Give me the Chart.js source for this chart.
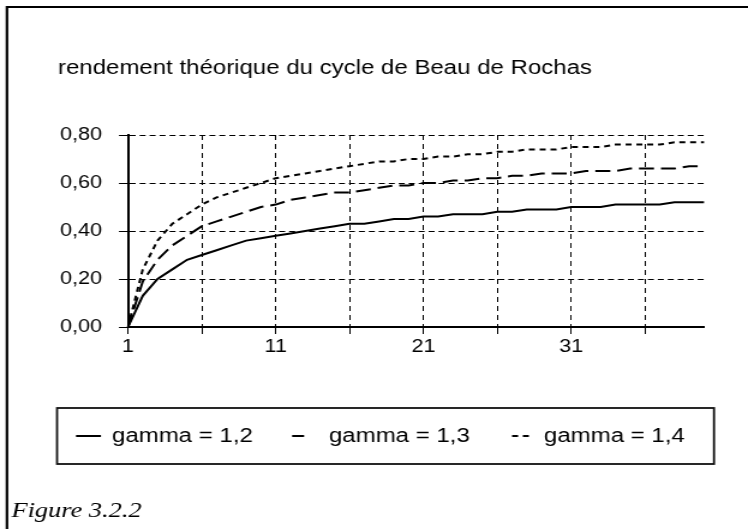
<!DOCTYPE html>
<html>
<head>
<meta charset="utf-8">
<script src="https://cdn.jsdelivr.net/npm/chart.js@4.4.1/dist/chart.umd.min.js"></script>
<style>
  html, body { margin: 0; padding: 0; background: #fff; overflow: hidden; }
  /* la figure d'origine est étirée en largeur : on dessine à 623 px puis on étire à 748 */
  #rendement { display: block; transform: scaleX(1.2006); transform-origin: 0 0; }
</style>
</head>
<body>
<canvas id="rendement" width="623" height="529"></canvas>
<script>
// rapport volumétrique (axe X)
const rapports = [1, 2, 3, 4, 5, 6, 7, 8, 9, 10, 11, 12, 13, 14, 15, 16, 17, 18, 19, 20,
  21, 22, 23, 24, 25, 26, 27, 28, 29, 30, 31, 32, 33, 34, 35, 36, 37, 38, 39, 40];

// rendement
const gamma12 = [0, 0.13, 0.20, 0.24, 0.28, 0.30, 0.32, 0.34, 0.36, 0.37, 0.38, 0.39, 0.40, 0.41,
  0.42, 0.43, 0.43, 0.44, 0.45, 0.45, 0.46, 0.46, 0.47, 0.47, 0.47, 0.48, 0.48, 0.49, 0.49, 0.49,
  0.50, 0.50, 0.50, 0.51, 0.51, 0.51, 0.51, 0.52, 0.52, 0.52];
const gamma13 = [0, 0.19, 0.28, 0.34, 0.38, 0.42, 0.44, 0.46, 0.48, 0.50, 0.51, 0.53, 0.54, 0.55,
  0.56, 0.56, 0.57, 0.58, 0.59, 0.59, 0.60, 0.60, 0.61, 0.61, 0.62, 0.62, 0.63, 0.63, 0.64, 0.64,
  0.64, 0.65, 0.65, 0.65, 0.66, 0.66, 0.66, 0.66, 0.67, 0.67];
const gamma14 = [0, 0.24, 0.36, 0.43, 0.47, 0.51, 0.54, 0.56, 0.58, 0.60, 0.62, 0.63, 0.64, 0.65,
  0.66, 0.67, 0.68, 0.69, 0.69, 0.70, 0.70, 0.71, 0.71, 0.72, 0.72, 0.73, 0.73, 0.74, 0.74, 0.74,
  0.75, 0.75, 0.75, 0.76, 0.76, 0.76, 0.76, 0.77, 0.77, 0.77];

const series = ["gamma = 1,2", "gamma = 1,3", "gamma = 1,4"];
const yTicks = [0, 0.2, 0.4, 0.6, 0.8];

const police = '"Liberation Sans", Arial, sans-serif';
const virgule = v => v.toFixed(2).replace(".", ",");
const tousLes5 = c => (c.index % 5 === 0 ? "#000" : "rgba(0,0,0,0)");

// cadre, boite de legende et legende de figure
const decor = {
  id: "decor",
  afterDraw(chart) {
    const ctx = chart.ctx;
    ctx.save();
    ctx.strokeStyle = "#000";
    ctx.lineWidth = 2.2;
    ctx.beginPath();
    ctx.moveTo(5.8, 529);
    ctx.lineTo(5.8, 7);
    ctx.lineTo(623, 7);
    ctx.stroke();

    ctx.lineWidth = 1.8;
    ctx.strokeStyle = "#111";
    ctx.strokeRect(47.5, 408, 547.2, 56);

    // début et longueur de chaque trait d'exemple, puis début du texte
    const traits = [[63.3, 20.8], [243.3, 10], [426.5, 15]];
    const textes = [93.3, 274, 453.1];
    ctx.font = "20px " + police;
    ctx.textBaseline = "middle";
    ctx.fillStyle = "#000";
    chart.data.datasets.forEach((ds, i) => {
      ctx.beginPath();
      ctx.lineWidth = ds.borderWidth;
      ctx.strokeStyle = ds.borderColor;
      ctx.setLineDash(ds.borderDash || []);
      ctx.moveTo(traits[i][0], 436);
      ctx.lineTo(traits[i][0] + traits[i][1], 436);
      ctx.stroke();
      ctx.setLineDash([]);
      ctx.fillText(ds.label, textes[i], 436);
    });

    ctx.font = 'italic 22px "Liberation Serif", "Times New Roman", serif';
    ctx.textBaseline = "alphabetic";
    ctx.fillText("Figure 3.2.2", 9.5, 517);
    ctx.restore();
  }
};

new Chart(document.getElementById("rendement"), {
  type: "line",
  data: {
    labels: rapports,
    datasets: [
      { label: series[0], data: gamma12, borderColor: "#000", borderWidth: 2, borderDash: [] },
      { label: series[1], data: gamma13, borderColor: "#000", borderWidth: 2, borderDash: [12.5, 5.8] },
      { label: series[2], data: gamma14, borderColor: "#000", borderWidth: 2, borderDash: [5, 4] }
    ]
  },
  options: {
    responsive: false,
    animation: false,
    events: [],
    layout: { padding: { left: 48.3, right: 36.6, top: 10, bottom: 152 } },
    elements: { point: { radius: 0 }, line: { tension: 0 } },
    plugins: {
      legend: { display: false },
      tooltip: { enabled: false },
      title: {
        display: true,
        align: "start",
        text: "rendement théorique du cycle de Beau de Rochas",
        color: "#000",
        font: { family: police, size: 20, weight: "normal" },
        padding: { top: 46, bottom: 55 }
      }
    },
    scales: {
      x: {
        afterFit(s) { s.height = 50; },
        grid: { color: tousLes5, tickColor: tousLes5, lineWidth: 1, tickLength: 7, tickBorderDash: [] },
        border: { display: true, color: "#000", width: 2, dash: [5, 4] },
        ticks: {
          autoSkip: false,
          maxRotation: 0,
          padding: 2,
          color: "#000",
          font: { family: police, size: 18 },
          callback: (v, i) => (i % 10 === 0 ? String(rapports[i]) : "")
        }
      },
      y: {
        min: yTicks[0],
        max: yTicks[yTicks.length - 1],
        afterFit(s) { s.width = 58.3; },
        afterBuildTicks(s) { s.ticks = yTicks.map(v => ({ value: v })); },
        grid: { color: "#000", tickColor: "#000", lineWidth: 1, tickLength: 7.5, tickBorderDash: [] },
        border: { display: true, color: "#000", width: 2, dash: [5, 3.3] },
        ticks: {
          padding: 14.1,
          color: "#000",
          font: { family: police, size: 18 },
          callback: v => virgule(v)
        }
      }
    }
  },
  plugins: [decor]
});
</script>
</body>
</html>
